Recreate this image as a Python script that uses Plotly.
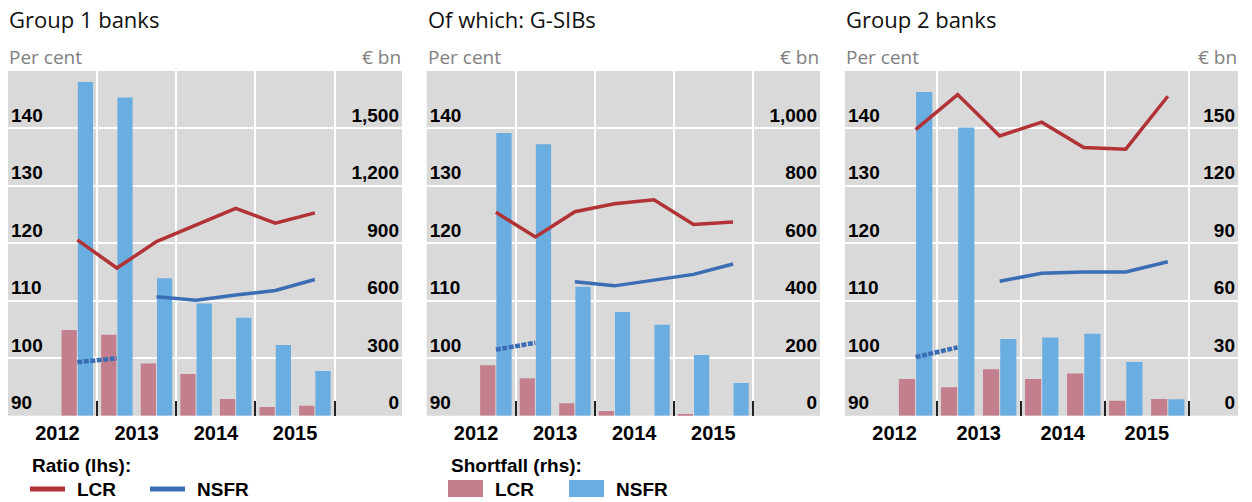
import plotly.graph_objects as go

# ---------------- data ----------------
periods = [0, 1, 2, 3, 4, 5, 6]          # half-years: H2 2012 ... H2 2015
nsfr_dotted_periods = [0, 1]
nsfr_solid_periods = [2, 3, 4, 5, 6]
year_labels = ["2012", "2013", "2014", "2015"]
year_label_pos = [-0.5, 1.5, 3.5, 5.5]
year_bounds = [0.5, 2.5, 4.5, 6.5]

panel_titles = ["Group 1 banks", "Of which: G-SIBs", "Group 2 banks"]

# Group 1 banks
g1_lcr_ratio = [120.6, 115.7, 120.3, 123.2, 126.1, 123.5, 125.3]
g1_nsfr_ratio_dotted = [99.3, 100.0]
g1_nsfr_ratio = [110.7, 110.1, 111.0, 111.8, 113.7]
g1_lcr_shortfall = [447, 423, 273, 218, 87, 45, 52]
g1_nsfr_shortfall = [1742, 1661, 718, 586, 511, 369, 233]

# Of which: G-SIBs
gs_lcr_ratio = [125.4, 121.1, 125.5, 126.9, 127.6, 123.3, 123.7]
gs_nsfr_ratio_dotted = [101.5, 102.7]
gs_nsfr_ratio = [113.3, 112.6, 113.6, 114.6, 116.4]
gs_lcr_shortfall = [176, 130, 43, 16, 0, 5, 0]
gs_nsfr_shortfall = [984, 945, 449, 361, 317, 211, 114]

# Group 2 banks
g2_lcr_ratio = [139.8, 145.9, 138.7, 141.1, 136.7, 136.4, 145.6]
g2_nsfr_ratio_dotted = [100.2, 101.9]
g2_nsfr_ratio = [113.4, 114.8, 115.0, 115.0, 116.8]
g2_lcr_shortfall = [19.1, 14.8, 24.2, 19.1, 22.1, 7.8, 8.7]
g2_nsfr_shortfall = [169, 150.5, 40, 40.9, 42.8, 28, 8.6]

ratio_ticks = [90, 100, 110, 120, 130, 140]
ratio_range = [90, 150]
shortfall_ticks = [
    [0, 300, 600, 900, 1200, 1500, 1800],
    [0, 200, 400, 600, 800, 1000, 1200],
    [0, 30, 60, 90, 120, 150, 180],
]

# ---------------- styling ----------------
W, H = 1252, 502
C_LCR_LINE = "#b13335"
C_NSFR_LINE = "#3b6db5"
C_LCR_BAR = "#c47f8f"
C_NSFR_BAR = "#6aade1"
BG = "#d9d9d9"
TICKFONT = dict(family="Liberation Sans, Arial", size=19, color="black", weight="bold")

panel_px = [(8, 402), (426.7, 820), (845, 1238)]
x_ranges = [[-1.75, 8.2], [-1.75, 8.2], [-1.68, 7.67]]
plot_top_px, plot_bot_px = 71, 415.7


def px_x(v):
    return v / W


def px_y(v):
    return 1 - v / H


panels = [
    (g1_lcr_ratio, g1_nsfr_ratio_dotted, g1_nsfr_ratio, g1_lcr_shortfall, g1_nsfr_shortfall),
    (gs_lcr_ratio, gs_nsfr_ratio_dotted, gs_nsfr_ratio, gs_lcr_shortfall, gs_nsfr_shortfall),
    (g2_lcr_ratio, g2_nsfr_ratio_dotted, g2_nsfr_ratio, g2_lcr_shortfall, g2_nsfr_shortfall),
]

fig = go.Figure()
layout = {}
annotations = []

for i, (lcr_r, nsfr_d, nsfr_s, lcr_sh, nsfr_sh) in enumerate(panels):
    xn = "x" if i == 0 else f"x{i + 1}"
    yb = f"y{2 * i + 1}" if i > 0 else "y"      # bars axis (base, right side)
    yl = f"y{2 * i + 2}"                         # ratio axis (overlay, left side)
    xa_key = "xaxis" if i == 0 else f"xaxis{i + 1}"
    yb_key = "yaxis" if i == 0 else f"yaxis{2 * i + 1}"
    yl_key = f"yaxis{2 * i + 2}"

    fig.add_trace(go.Bar(x=periods, y=lcr_sh, marker_color=C_LCR_BAR, marker_line_width=0,
                         xaxis=xn, yaxis=yb, showlegend=False))
    fig.add_trace(go.Bar(x=periods, y=nsfr_sh, marker_color=C_NSFR_BAR, marker_line_width=0,
                         xaxis=xn, yaxis=yb, showlegend=False))
    fig.add_trace(go.Scatter(x=periods, y=lcr_r, mode="lines",
                             line=dict(color=C_LCR_LINE, width=3.5),
                             xaxis=xn, yaxis=yl, showlegend=False))
    fig.add_trace(go.Scatter(x=nsfr_dotted_periods, y=nsfr_d, mode="lines",
                             line=dict(color=C_NSFR_LINE, width=4.5, dash="5px,1.5px"),
                             xaxis=xn, yaxis=yl, showlegend=False))
    fig.add_trace(go.Scatter(x=nsfr_solid_periods, y=nsfr_s, mode="lines",
                             line=dict(color=C_NSFR_LINE, width=3.5),
                             xaxis=xn, yaxis=yl, showlegend=False))

    x0, x1 = panel_px[i]
    dom_x = [px_x(x0), px_x(x1)]
    dom_y = [px_y(plot_bot_px), px_y(plot_top_px)]

    layout[xa_key] = dict(
        domain=dom_x, range=x_ranges[i], anchor=yb,
        tickmode="array", tickvals=year_label_pos, ticktext=year_labels,
        ticks="", showgrid=False, zeroline=False, showline=False,
        tickfont=dict(family="Liberation Sans, Arial", size=20, color="black", weight="bold"),
        ticklabelstandoff=3,
        minor=dict(tickmode="array", tickvals=year_bounds, ticks="inside", ticklen=15,
                   tickwidth=2, tickcolor="#222222", showgrid=True, gridcolor="white",
                   gridwidth=1.5),
        fixedrange=True,
    )
    sh_ticks = shortfall_ticks[i]
    layout[yb_key] = dict(
        domain=dom_y, range=[sh_ticks[0], sh_ticks[-1]], anchor=xn, side="right",
        tickmode="array", tickvals=sh_ticks,
        ticktext=[f"{v:,}" for v in sh_ticks[:-1]] + [""],
        ticklabelposition="inside top", ticks="", tickfont=TICKFONT,
        showgrid=True, gridcolor="white", gridwidth=1.5, zeroline=False, showline=False,
        fixedrange=True,
    )
    layout[yl_key] = dict(
        overlaying=yb, range=ratio_range, anchor=xn, side="left",
        tickmode="array", tickvals=ratio_ticks,
        ticklabelposition="inside top", ticks="", tickfont=TICKFONT,
        showgrid=False, zeroline=False, showline=False, fixedrange=True,
    )

    annotations.append(dict(text=panel_titles[i], x=px_x(x0 - 1), y=px_y(19), xref="paper", yref="paper",
                            xanchor="left", yanchor="middle", showarrow=False,
                            font=dict(family="Open Sans", size=22, color="#111111")))
    annotations.append(dict(text="Per cent", x=px_x(x0 - 1), y=px_y(57), xref="paper", yref="paper",
                            xanchor="left", yanchor="middle", showarrow=False,
                            font=dict(family="Open Sans", size=19, color="#808080")))
    annotations.append(dict(text="€ bn", x=px_x(x1 + 1), y=px_y(57), xref="paper", yref="paper",
                            xanchor="right", yanchor="middle", showarrow=False,
                            font=dict(family="Open Sans", size=19, color="#808080")))

# ---------------- legends ----------------
LEGFONT = dict(family="Liberation Sans, Arial", size=19, color="black", weight="bold")
legend_texts = [
    ("Ratio (lhs):", 30, 465), ("LCR", 75, 489), ("NSFR", 195, 489),
    ("Shortfall (rhs):", 449, 465), ("LCR", 493, 489), ("NSFR", 614, 489),
]
for t, lx, ly in legend_texts:
    annotations.append(dict(text=t, x=px_x(lx), y=px_y(ly), xref="paper", yref="paper",
                            xanchor="left", yanchor="middle", showarrow=False, font=LEGFONT))

shapes = [
    dict(type="line", xref="paper", yref="paper", x0=px_x(30), x1=px_x(65), y0=px_y(489), y1=px_y(489),
         line=dict(color=C_LCR_LINE, width=5)),
    dict(type="line", xref="paper", yref="paper", x0=px_x(150), x1=px_x(185), y0=px_y(489), y1=px_y(489),
         line=dict(color=C_NSFR_LINE, width=5)),
    dict(type="rect", xref="paper", yref="paper", x0=px_x(448), x1=px_x(483), y0=px_y(497), y1=px_y(480),
         fillcolor=C_LCR_BAR, line=dict(width=0)),
    dict(type="rect", xref="paper", yref="paper", x0=px_x(569), x1=px_x(604), y0=px_y(497), y1=px_y(480),
         fillcolor=C_NSFR_BAR, line=dict(width=0)),
]

fig.update_layout(
    width=W, height=H, margin=dict(l=0, r=0, t=0, b=0),
    paper_bgcolor="white", plot_bgcolor=BG,
    barmode="group", bargap=0.18, bargroupgap=0.06,
    showlegend=False, annotations=annotations, shapes=shapes,
    **layout,
)

fig.write_html(
    "out.html",
    config={"displayModeBar": False},
    post_script="document.body.style.margin='0';document.body.style.overflow='hidden';",
)
